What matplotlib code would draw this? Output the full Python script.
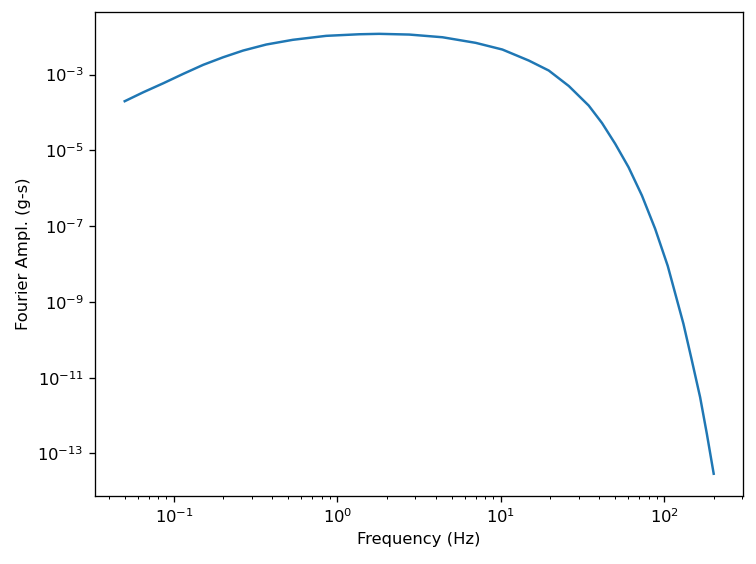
import matplotlib
matplotlib.use("Agg")
import matplotlib.pyplot as plt

# values
freq = [0.050, 0.0650, 0.0861, 0.114, 0.151, 0.200, 0.265, 0.367, 0.533, 0.853,
        1.36, 1.80, 2.75, 4.39, 7.01, 10.2, 14.8, 19.6, 26.0, 34.4,
        41.5, 50.0, 60.3, 72.8, 87.7, 104.7, 130.6, 146.6, 165.2, 181.6,
        200.0]
log_amp = [-3.704, -3.467, -3.230, -2.982, -2.744, -2.544, -2.367, -2.208, -2.084, -1.979,
           -1.937, -1.926, -1.945, -2.016, -2.164, -2.340, -2.631, -2.894, -3.303, -3.818,
           -4.280, -4.830, -5.446, -6.193, -7.071, -8.050, -9.578, -10.520, -11.515, -12.480,
           -13.535]
amp = [10 ** v for v in log_amp]

dpi = 118
fig = plt.figure(figsize=(756 / dpi, 564 / dpi), dpi=dpi)
ax = fig.add_subplot(111)
fig.subplots_adjust(left=0.126, right=0.983, top=0.979, bottom=0.121)

ax.plot(freq, amp, color="#1f77b4")
ax.set_xscale("log")
ax.set_yscale("log")
ax.set_xlabel("Frequency (Hz)")
ax.set_ylabel("Fourier Ampl. (g-s)")

fig.savefig("out.png", dpi=dpi)
